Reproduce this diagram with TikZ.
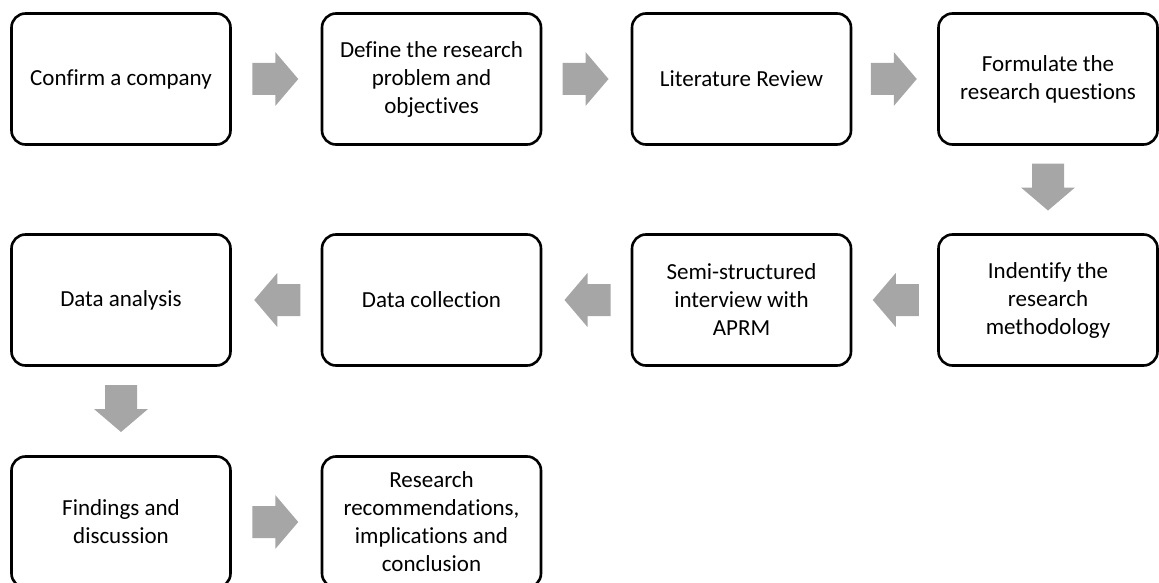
\documentclass[tikz,border=0pt]{standalone}
\usepackage{fontspec}
\setmainfont{Carlito}[Ligatures=NoCommon]
\usetikzlibrary{calc}
\definecolor{arrowgray}{HTML}{A6A6A6}
\tikzset{
  stepbox/.style={draw=black, line width=2.6pt, rounded corners=14pt, fill=white,
    minimum width=219pt, minimum height=131pt, align=center, inner sep=4pt,
    font=\fontsize{23}{28}\selectfont},
  blockarrow/.style={fill=arrowgray, draw=none}
}
\begin{document}
\begin{tikzpicture}[x=1pt, y=-1pt]
\useasboundingbox (0,0) rectangle (1159,583);
\clip (0,0) rectangle (1159,583);
% row 1
\node[stepbox] (a1) at (121,79) {Confirm a company};
\node[stepbox] (a2) at (431.5,79) {Define the research\\problem and\\objectives};
\node[stepbox] (a3) at (741.5,79) {Literature Review};
\node[stepbox] (a4) at (1048,79) {Formulate the\\research questions};
% row 2
\node[stepbox] (b1) at (121,300) {Data analysis};
\node[stepbox] (b2) at (431.5,300) {Data collection};
\node[stepbox] (b3) at (741.5,300) {Semi-structured\\interview with\\APRM};
\node[stepbox] (b4) at (1048,300) {Indentify the\\research\\methodology};
% row 3
\node[stepbox] (c1) at (121,522) {Findings and\\discussion};
\node[stepbox] (c2) at (431.5,522) {Research\\recommendations,\\implications and\\conclusion};
% right arrows
\foreach \p/\q in {a1/a2, a2/a3, a3/a4, c1/c2}{
  \fill[blockarrow] ($(\p.east)!0.5!(\q.west)$) ++(-24,-16) -- ++(23,0) -- ++(0,-11)
    -- ++(23,27) -- ++(-23,27) -- ++(0,-11) -- ++(-23,0) -- cycle;
}
% left arrows
\foreach \p/\q in {b4/b3, b3/b2, b2/b1}{
  \fill[blockarrow] ($(\p.west)!0.5!(\q.east)$) ++(24,-16) -- ++(-23,0) -- ++(0,-11)
    -- ++(-23,27) -- ++(23,27) -- ++(0,-11) -- ++(23,0) -- cycle;
}
% down arrows
\foreach \p/\q in {a4/b4, b1/c1}{
  \fill[blockarrow] ($(\p.south)!0.5!(\q.north)$) ++(-16,-26) -- ++(0,24) -- ++(-11,0)
    -- ++(27,23) -- ++(27,-23) -- ++(-11,0) -- ++(0,-24) -- cycle;
}
\end{tikzpicture}
\end{document}
